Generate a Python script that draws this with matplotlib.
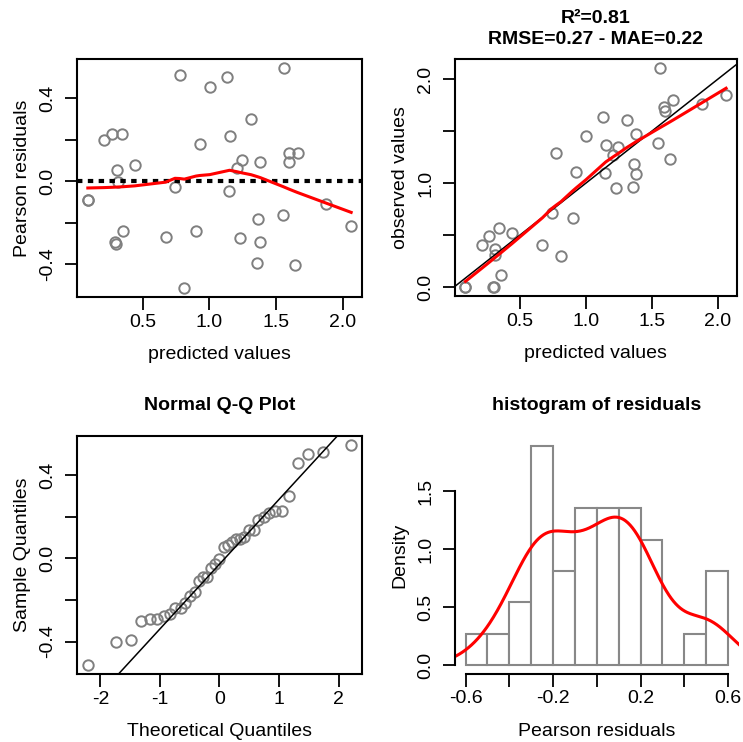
import numpy as np
import matplotlib
matplotlib.use("Agg")
import matplotlib.pyplot as plt
from statistics import NormalDist

plt.rcParams['font.family'] = ['Liberation Sans', 'DejaVu Sans']
plt.rcParams['axes.unicode_minus'] = False

# values
predicted = [0.776, 1.002, 1.133, 1.562, 1.311, 0.211, 0.266, 0.344, 0.927, 1.151,
             0.309, 0.440, 0.311, 0.741, 1.243, 1.208, 1.382, 1.593, 1.660, 1.598,
             1.145, 0.088, 0.088, 1.876, 2.062, 1.367, 1.550, 0.354, 0.294, 0.301,
             0.671, 0.899, 1.226, 1.379, 1.359, 1.640, 0.811]
residuals = [0.512, 0.456, 0.503, 0.547, 0.298, 0.198, 0.226, 0.226, 0.182, 0.219,
             0.055, 0.079, -0.003, -0.027, 0.101, 0.064, 0.092, 0.137, 0.137, 0.092,
             -0.048, -0.088, -0.088, -0.111, -0.217, -0.180, -0.164, -0.240, -0.294, -0.301,
             -0.266, -0.238, -0.275, -0.293, -0.393, -0.403, -0.515]
observed = [1.288, 1.458, 1.636, 2.109, 1.609, 0.409, 0.492, 0.570, 1.109, 1.370,
            0.364, 0.519, 0.308, 0.714, 1.344, 1.272, 1.474, 1.730, 1.797, 1.690,
            1.097, 0.000, 0.000, 1.765, 1.845, 1.187, 1.386, 0.114, 0.000, 0.000,
            0.405, 0.661, 0.951, 1.086, 0.966, 1.237, 0.296]
stats_title = "R\u00b2=0.81\nRMSE=0.27 - MAE=0.22"
hist_breaks = np.round(np.arange(-0.6, 0.61, 0.1), 2)

pred = np.array(predicted)
res = np.array(residuals)
obs = np.array(observed)

GREY = '#7f7f7f'
FS = 14


def lowess(x, y, f=2/3, it=3):
    # R-style lowess (no delta shortcut)
    o = np.argsort(x, kind='stable')
    x = x[o]; y = y[o]
    n = len(x)
    ns = max(2, min(n, int(f * n + 1e-7)))
    rw = np.ones(n)
    fit = np.zeros(n)
    for k in range(it + 1):
        nl, nr = 0, ns - 1
        for i in range(n):
            while nr < n - 1 and x[i] - x[nl] > x[nr + 1] - x[i]:
                nl += 1; nr += 1
            h = max(x[i] - x[nl], x[nr] - x[i])
            r = np.abs(x - x[i])
            w = np.zeros(n)
            m = r <= 0.999 * h
            w[m] = np.where(r[m] <= 0.001 * h, 1.0, (1 - (r[m] / h) ** 3) ** 3)
            w *= rw
            if w.sum() <= 0:
                fit[i] = y[i]; continue
            w = w / w.sum()
            if h > 0:
                a = np.sum(w * x)
                c = np.sum(w * (x - a) ** 2)
                if np.sqrt(c) > 0.001 * (x[-1] - x[0]):
                    b = (x[i] - a) / c
                    w = w * (b * (x - a) + 1)
            fit[i] = np.sum(w * y)
        if k == it:
            break
        e = np.abs(y - fit)
        cmad = 6 * np.median(e)
        if cmad < 1e-7:
            break
        rw = np.where(e <= 0.001 * cmad, 1.0,
                      np.where(e > 0.999 * cmad, 0.0, (1 - (e / cmad) ** 2) ** 2))
    return x, fit


def rlim(v):
    lo, hi = np.min(v), np.max(v)
    d = 0.04 * (hi - lo)
    return lo - d, hi + d


def style(ax, box=True):
    ax.tick_params(length=9, width=1.3, labelsize=FS, direction='out')
    ax.tick_params(axis='x', pad=3)
    ax.tick_params(axis='y', pad=6)
    for s in ax.spines.values():
        s.set_linewidth(1.5)
        s.set_visible(box)
    plt.setp(ax.get_yticklabels(), rotation=90, va='center')


W, H = 743, 742
fig = plt.figure(figsize=(W / 100, H / 100), dpi=100)


def box(l, t, r, b):
    return [l / W, 1 - b / H, (r - l) / W, (b - t) / H]


pt = dict(marker='o', ms=7.5, mfc='none', mec=GREY, mew=1.4, ls='none')

# 1. residuals vs predicted
ax1 = fig.add_axes(box(77.3, 59, 361.7, 297))
ax1.plot(pred, res, **pt)
ax1.axhline(0, color='black', lw=3, ls=(0, (1.3, 1.3)))
lx, ly = lowess(pred, res)
ax1.plot(lx, ly, color='red', lw=2.2)
ax1.set_xlim(rlim(pred)); ax1.set_ylim(rlim(res))
ax1.set_xticks([0.5, 1.0, 1.5, 2.0])
ax1.set_yticks([-0.4, -0.2, 0.0, 0.2, 0.4], ['-0.4', '', '0.0', '', '0.4'])
ax1.set_xlabel('predicted values', fontsize=FS, labelpad=11)
ax1.set_ylabel('Pearson residuals', fontsize=FS, labelpad=6)
style(ax1)

# 2. observed vs predicted
ax2 = fig.add_axes(box(455, 59, 736.5, 296))
ax2.plot(pred, obs, **pt)
ax2.axline((0, 0), slope=1, color='black', lw=1.1)
lx, ly = lowess(pred, obs)
ax2.plot(lx, ly, color='red', lw=2.2)
ax2.set_xlim(rlim(pred)); ax2.set_ylim(rlim(obs))
ax2.set_xticks([0.5, 1.0, 1.5, 2.0])
ax2.set_yticks([0.0, 0.5, 1.0, 1.5, 2.0], ['0.0', '', '1.0', '', '2.0'])
ax2.set_xlabel('predicted values', fontsize=FS, labelpad=11)
ax2.set_ylabel('observed values', fontsize=FS, labelpad=6)
style(ax2)
fig.text((455 + 736.5) / 2 / W, 1 - 29 / H, stats_title, ha='center', va='center',
         fontsize=FS, fontweight='bold', linespacing=1.38)

# 3. normal Q-Q
n = len(res)
srt = np.sort(res)
nd = NormalDist()
theo = np.array([nd.inv_cdf((i + 0.5) / n) for i in range(n)])
q1, q3 = np.quantile(res, [0.25, 0.75])
z1, z3 = nd.inv_cdf(0.25), nd.inv_cdf(0.75)
slope = (q3 - q1) / (z3 - z1)
icpt = q1 - slope * z1
ax3 = fig.add_axes(box(77.3, 435.7, 361.7, 674.3))
ax3.plot(theo, srt, **pt)
ax3.axline((0, icpt), slope=slope, color='black', lw=1.1)
ax3.set_xlim(rlim(theo)); ax3.set_ylim(rlim(srt))
ax3.set_xticks([-2, -1, 0, 1, 2])
ax3.set_yticks([-0.4, -0.2, 0.0, 0.2, 0.4], ['-0.4', '', '0.0', '', '0.4'])
ax3.set_xlabel('Theoretical Quantiles', fontsize=FS, labelpad=11)
ax3.set_ylabel('Sample Quantiles', fontsize=FS, labelpad=6)
style(ax3)
fig.text((77.3 + 361.7) / 2 / W, 1 - 406 / H, 'Normal Q-Q Plot', ha='center', va='center',
         fontsize=FS, fontweight='bold')

# 4. histogram of residuals
ax4 = fig.add_axes(box(455, 436.8, 738.5, 673.8))
dens, _, _ = ax4.hist(res, bins=hist_breaks, density=True, facecolor='white',
                      edgecolor='#888888', linewidth=1.5)
bw = 0.9 * min(res.std(ddof=1), (np.quantile(res, 0.75) - np.quantile(res, 0.25)) / 1.34) * n ** -0.2
gx = np.linspace(res.min() - 3 * bw, res.max() + 3 * bw, 512)
gy = np.exp(-0.5 * ((gx[:, None] - res[None, :]) / bw) ** 2).sum(axis=1) / (n * bw * np.sqrt(2 * np.pi))
ax4.plot(gx, gy, color='red', lw=2.2)
ax4.set_xlim(-0.648, 0.648)
ax4.set_ylim(rlim(np.r_[0, dens]))
ax4.set_xticks(np.round(np.arange(-0.6, 0.61, 0.2), 1),
               ['-0.6', '', '-0.2', '', '0.2', '', '0.6'])
ax4.set_yticks([0.0, 0.5, 1.0, 1.5])
ax4.set_xlabel('Pearson residuals', fontsize=FS, labelpad=11)
ax4.set_ylabel('Density', fontsize=FS, labelpad=6)
style(ax4, box=False)
ax4.spines['left'].set_visible(True)
ax4.spines['bottom'].set_visible(True)
ax4.spines['left'].set_bounds(0, 1.5)
ax4.spines['bottom'].set_bounds(-0.6, 0.6)
fig.text((455 + 738.5) / 2 / W, 1 - 406 / H, 'histogram of residuals', ha='center', va='center',
         fontsize=FS, fontweight='bold')

fig.savefig('out.png', dpi=100)
